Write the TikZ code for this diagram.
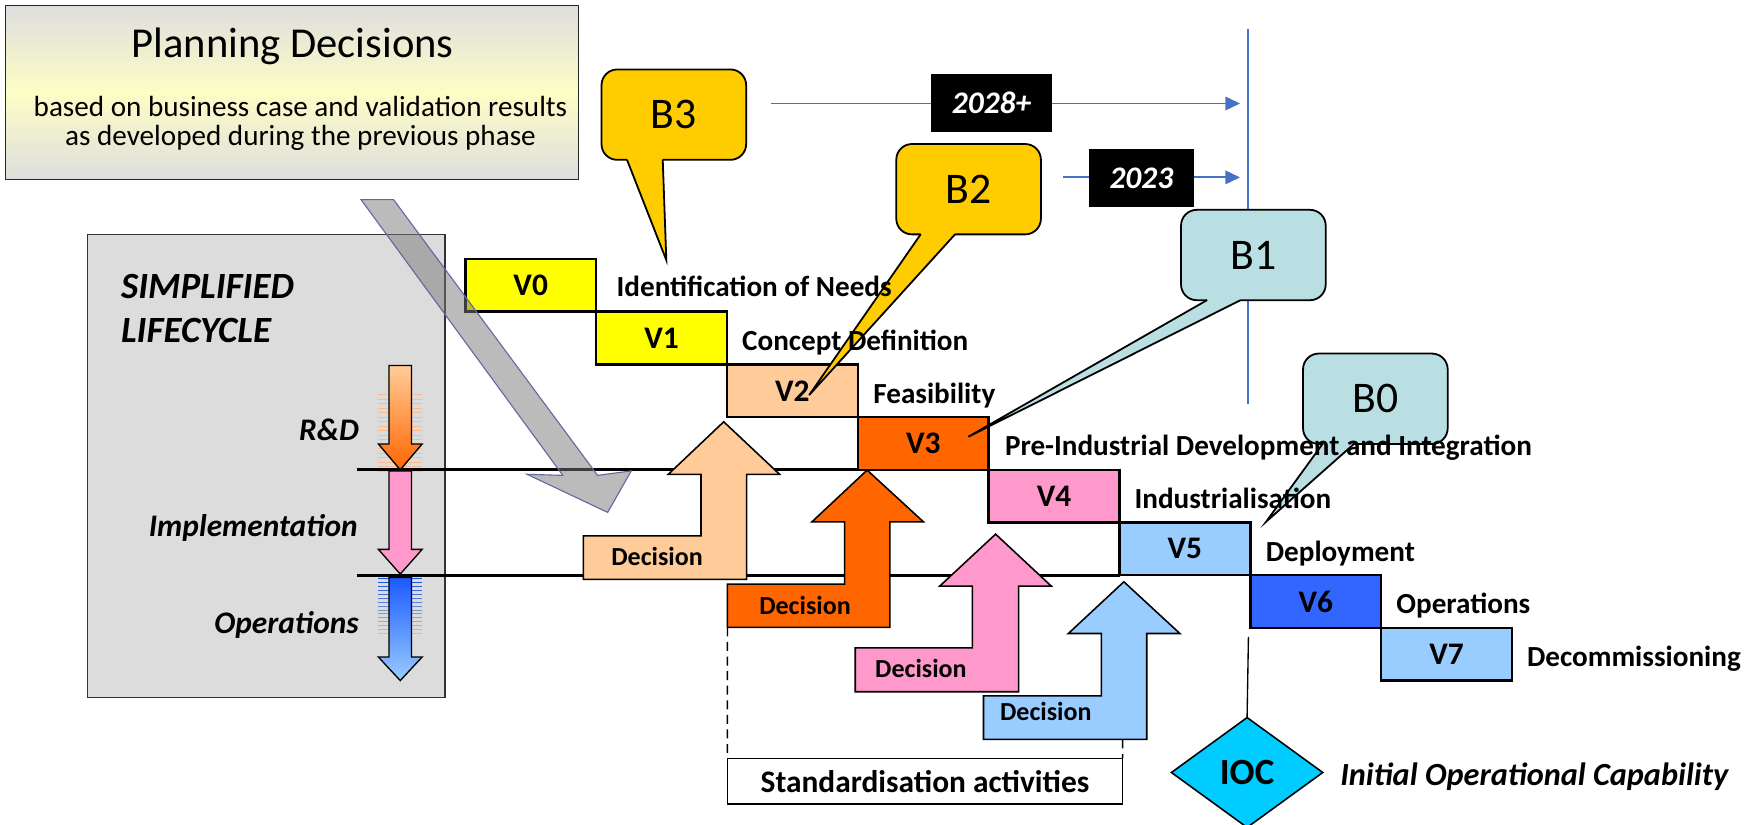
\documentclass[tikz,border=0pt]{standalone}
\usepackage{fontspec}
\setmainfont{Carlito}
\usetikzlibrary{arrows.meta,shapes.geometric}
\definecolor{vyellow}{HTML}{FFFF00}
\definecolor{vpeach}{HTML}{FFCC99}
\definecolor{vorange}{HTML}{FF6600}
\definecolor{vpink}{HTML}{FF99CC}
\definecolor{vlblue}{HTML}{99CCFF}
\definecolor{vblue}{HTML}{3366FF}
\definecolor{arrblue}{HTML}{1A5AFF}
\definecolor{cgold}{HTML}{FFCC00}
\definecolor{cteal}{HTML}{B9DFE2}
\definecolor{tline}{HTML}{4472C4}
\definecolor{iocc}{HTML}{00CCFF}
\definecolor{lcgray}{HTML}{DCDCDC}
\definecolor{pyellow}{HTML}{FDFDC6}
\definecolor{grayarr}{HTML}{787878}
\definecolor{grayedge}{HTML}{6468A0}
\newcommand{\mytail}[6]{%
  \fill[#1] (#2,#4-4) -- (#2,#4) -- (#5,#6) -- (#3,#4) -- (#3,#4-4) -- cycle;
  \draw[tailedge] (#2,#4) -- (#5,#6) -- (#3,#4);}
\begin{document}
\begin{tikzpicture}[x=0.5pt,y=-0.5pt,
  every node/.style={inner sep=0pt, outer sep=0pt},
  vbox/.style={draw=black, line width=1.1pt, minimum width=58.35pt, minimum height=23.5pt, font=\fontsize{14}{16}\selectfont\bfseries},
  vlabel/.style={anchor=base west, font=\fontsize{13}{15}\selectfont\bfseries},
  decarrow/.style={draw=black, line width=0.7pt},
  dectext/.style={font=\fontsize{11.6}{14}\selectfont\bfseries},
  callout/.style={draw=black, line width=0.8pt, rounded corners=7pt, minimum width=64.5pt, minimum height=40.3pt, font=\fontsize{19.5}{22}\selectfont},
  tailedge/.style={draw=black, line width=0.8pt, line join=miter},
  yearbox/.style={fill=black, text=white, font=\fontsize{14}{16}\selectfont\bfseries\itshape},
  tlarrow/.style={draw=tline, line width=0.8pt, -{Triangle[length=6.5pt,width=6pt]}},
  lcarrow/.style={draw=black, line width=0.6pt},
  lclabel/.style={anchor=base east, font=\fontsize{14}{16}\selectfont\bfseries\itshape},
  phaseline/.style={draw=black, line width=1.2pt},
  stddash/.style={draw=black, line width=0.6pt, dash pattern=on 4pt off 2.5pt}
]
\useasboundingbox (0,0) rectangle (1568,735);

% Planning decisions box
\node[draw=black!85, line width=0.6pt, top color=gray!26, bottom color=gray!26, middle color=pyellow, minimum width=255.5pt, minimum height=77.5pt] (plan) at (260.5,82.5) {};
\node[anchor=base, font=\fontsize{19}{22}\selectfont] (plantitle) at (261,51) {Planning Decisions};
\node[anchor=base, font=\fontsize{13}{15}\selectfont] (plansub1) at (268,104) {based on business case and validation results};
\node[anchor=base, font=\fontsize{13}{15}\selectfont] (plansub2) at (268,130) {as developed during the previous phase};

% Simplified lifecycle box
\node[draw=black!80, line width=0.6pt, fill=lcgray, minimum width=159.5pt, minimum height=206.5pt] (lc) at (237.5,415.5) {};
\node[anchor=base west, font=\fontsize{16.5}{19}\selectfont\bfseries\itshape] (lct1) at (108,266) {SIMPLIFIED};
\node[anchor=base west, font=\fontsize{16.5}{19}\selectfont\bfseries\itshape] (lct2) at (108,305.7) {LIFECYCLE};
\node[lclabel] (rd) at (320,392.5) {R\&D};
\node[lclabel] (impl) at (319,478.7) {Implementation};
\node[lclabel] (ops) at (320,565) {Operations};

% V boxes
\node[vbox, fill=vyellow] (v0) at (473.35,254.5) {V0};
\node[vbox, fill=vyellow] (v1) at (590.05,301.5) {V1};
\node[vbox, fill=vpeach]  (v2) at (706.75,348.5) {V2};
\node[vbox, fill=vorange] (v3) at (823.45,395.5) {V3};
\node[vbox, fill=vpink]   (v4) at (940.15,442.5) {V4};
\node[vbox, fill=vlblue]  (v5) at (1056.85,489.5) {V5};
\node[vbox, fill=vblue]   (v6) at (1173.55,536.5) {V6};
\node[vbox, fill=vlblue]  (v7) at (1290.25,583.5) {V7};

% phase lines
\coordinate (l1s) at (318,419);
\coordinate (l2s) at (318,513);
\draw[phaseline] (l1s) -- (v3.south west);
\draw[phaseline] (l2s) -- (v5.south west);

% stripes and lifecycle arrows
\foreach \yy in {352,356,...,420} \draw[vorange!45, line width=0.35pt] (337.5,\yy) -- (376.5,\yy);
\foreach \yy [evaluate=\yy as \op using {1-(\yy-515)/60}] in {516,519.5,...,566} \draw[arrblue!85!black, opacity=\op, line width=0.35pt] (337.5,\yy) -- (376.5,\yy);
\shadedraw[lcarrow, top color=vpeach, bottom color=vorange] (347,326) -- (367,326) -- (367,396) -- (376.5,396) -- (357,419) -- (337.5,396) -- (347,396) -- cycle;
\filldraw[lcarrow, fill=vpink] (347,420) -- (367,420) -- (367,490) -- (376.5,490) -- (357,512) -- (337.5,490) -- (347,490) -- cycle;
\shadedraw[lcarrow, top color=arrblue, bottom color=vlblue] (347,515) -- (367,515) -- (367,586) -- (376.5,586) -- (357,607) -- (337.5,586) -- (347,586) -- cycle;

% Decision arrows
\filldraw[decarrow, fill=vpeach] (520.3,477.9) -- (625.2,477.9) -- (625.2,423.1) -- (596,423.1) -- (645.5,376.2) -- (695.4,423.1) -- (666,423.1) -- (666,516.8) -- (520.3,516.8) -- cycle;
\node[dectext] (d1) at (586,496.6) {Decision};
\filldraw[decarrow, fill=vorange] (648.8,521) -- (753.3,521) -- (753.3,465.4) -- (724.2,465.4) -- (773.4,419.3) -- (823.6,465.4) -- (793.7,465.4) -- (793.7,559.6) -- (648.8,559.6) -- cycle;
\node[dectext] (d2) at (718,539.7) {Decision};
\filldraw[decarrow, fill=vpink] (762.8,577.8) -- (867.3,577.8) -- (867.3,522.7) -- (838.2,522.7) -- (888,476.4) -- (937.6,522.7) -- (908.5,522.7) -- (908.5,617) -- (762.8,617) -- cycle;
\node[dectext] (d3) at (821.4,596.2) {Decision};
\filldraw[decarrow, fill=vlblue] (877.2,620.6) -- (982.3,620.6) -- (982.3,565) -- (952.9,565) -- (1002.4,518.9) -- (1052.3,565) -- (1022.8,565) -- (1022.8,659.5) -- (877.2,659.5) -- cycle;
\node[dectext] (d4) at (932.8,634.9) {Decision};

% Standardisation activities
\node[draw=black, line width=0.7pt, fill=white, minimum width=176.25pt, minimum height=20.35pt, font=\fontsize{14}{16}\selectfont\bfseries] (std) at (825,696.85) {Standardisation activities};
\coordinate (d2bl) at (648.8,559.6);
\coordinate (d4bl) at (1001.3,659.5);
\draw[stddash] (d2bl) -- (std.north west);
\draw[stddash] (d4bl) -- (std.north east);

% translucent gray arrow
\filldraw[fill=grayarr, fill opacity=0.5, draw=grayedge, line width=0.5pt] (322,178) -- (351,178) -- (533,424) -- (563,420) -- (542,457) -- (470,423) -- (502,424) -- cycle;

% timeline
\coordinate (t1s) at (687.4,92.3);
\coordinate (t1e) at (1106,92.3);
\coordinate (t2s) at (948.3,158.2);
\coordinate (t2e) at (1106,158.2);
\coordinate (vtop) at (1113,26);
\coordinate (vbot) at (1113,360.4);
\draw[tline, line width=0.8pt] (vtop) -- (vbot);
\draw[tlarrow] (t1s) -- (t1e);
\draw[tlarrow] (t2s) -- (t2e);
\node[yearbox, minimum width=53.6pt, minimum height=25.6pt] (y1) at (884.4,91.9) {2028+};
\node[yearbox, minimum width=46.6pt, minimum height=25.75pt] (y2) at (1018,158.65) {2023};

% callouts
\node[callout, fill=cgold] (b3) at (601,102.25) {B3};
\mytail{cgold}{559.2}{591.1}{142.4}{594.3}{232}
\node[callout, fill=cgold] (b2) at (863.9,168.75) {B2};
\mytail{cgold}{821.2}{851.9}{208.9}{721.7}{352.4}
\node[callout, fill=cteal] (b1) at (1117.9,227.45) {B1};
\mytail{cteal}{1076.7}{1106.7}{267.6}{863.7}{389.5}
\node[callout, fill=cteal] (b0) at (1226.7,355.65) {B0};
\mytail{cteal}{1179.7}{1207.8}{395.8}{1129.2}{465.4}

% phase labels (drawn over the callouts)
\node[vlabel] (n0) at (550,264) {Identification of Needs};
\node[vlabel] (n1) at (662,313) {Concept Definition};
\node[vlabel] (n2) at (779,360) {Feasibility};
\node[vlabel] (n3) at (896.4,406.5) {Pre-Industrial Development and Integration};
\node[vlabel] (n4) at (1012,453.5) {Industrialisation};
\node[vlabel] (n5) at (1129,500.5) {Deployment};
\node[vlabel] (n6) at (1245.5,547.5) {Operations};
\node[vlabel] (n7) at (1362,594.5) {Decommissioning};

% IOC
\node[diamond, draw=black, line width=0.7pt, fill=iocc, aspect=1.38, minimum width=67.5pt, minimum height=49pt, font=\fontsize{16.5}{19}\selectfont\bfseries] (ioc) at (1112.3,689) {IOC};
\coordinate (iocl) at (1113.5,568);
\draw[black, line width=0.6pt] (iocl) -- (ioc.north);
\node[anchor=west, font=\fontsize{14.4}{17}\selectfont\bfseries\itshape] (iocname) at (1195.4,693) {Initial Operational Capability};
\end{tikzpicture}
\end{document}
